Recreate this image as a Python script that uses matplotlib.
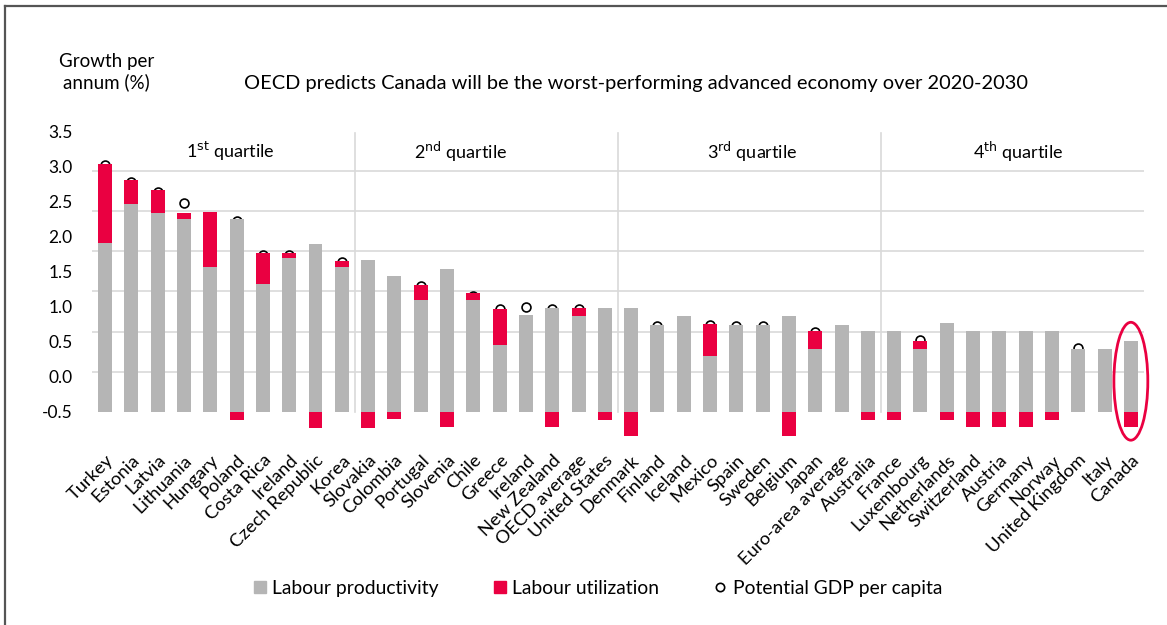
import numpy as np
import matplotlib.pyplot as plt
from matplotlib.patches import Ellipse
from matplotlib.lines import Line2D

plt.rcParams['font.family'] = ['Lato', 'DejaVu Sans']

# Datos
countries = ["Turkey", "Estonia", "Latvia", "Lithuania", "Hungary", "Poland", "Costa Rica",
             "Ireland", "Czech Republic", "Korea", "Slovakia", "Colombia", "Portugal",
             "Slovenia", "Chile", "Greece", "Ireland", "New Zealand", "OECD average",
             "United States", "Denmark", "Finland", "Iceland", "Mexico", "Spain", "Sweden",
             "Belgium", "Japan", "Euro-area average", "Australia", "France", "Luxembourg",
             "Netherlands", "Switzerland", "Austria", "Germany", "Norway", "United Kingdom",
             "Italy", "Canada"]

productivity = [2.10, 2.59, 2.48, 2.40, 1.80, 2.40, 1.59, 1.92, 2.09, 1.80,
                1.89, 1.69, 1.39, 1.78, 1.39, 0.83, 1.21, 1.29, 1.19, 1.29,
                1.29, 1.08, 1.19, 0.69, 1.08, 1.08, 1.19, 0.78, 1.08, 1.01,
                1.01, 0.78, 1.11, 1.01, 1.01, 1.01, 1.01, 0.78, 0.78, 0.88]

utilization = [0.99, 0.30, 0.28, 0.08, 0.69, -0.10, 0.39, 0.06, -0.20, 0.08,
               -0.20, -0.09, 0.19, -0.19, 0.09, 0.45, 0.0, -0.19, 0.10, -0.10,
               -0.30, 0.0, 0.0, 0.40, 0.0, 0.0, -0.30, 0.23, 0.0, -0.10,
               -0.10, 0.10, -0.10, -0.19, -0.19, -0.19, -0.10, 0.0, 0.0, -0.19]

potential = [3.07, 2.87, 2.74, 2.60, 2.30, 2.38, 1.96, 1.96, 1.89, 1.87,
             1.69, 1.60, 1.57, 1.59, 1.44, 1.28, 1.31, 1.28, 1.28, 1.19,
             0.99, 1.07, 1.00, 1.08, 1.07, 1.07, 0.89, 0.99, 0.95, 0.91,
             0.91, 0.90, 1.01, 0.82, 0.82, 0.82, 0.91, 0.80, 0.70, 0.69]

quartiles = ["1$^{\\mathrm{st}}$ quartile", "2$^{\\mathrm{nd}}$ quartile",
             "3$^{\\mathrm{rd}}$ quartile", "4$^{\\mathrm{th}}$ quartile"]

y_labels = ["3.5", "3.0", "2.5", "2.0", "1.5", "1.0", "0.5", "0.0", "-0.5"]

GRAY = "#B5B5B5"
RED = "#EA0041"

fig = plt.figure(figsize=(11.67, 6.25), dpi=100)
ax = fig.add_axes([0.0788, 0.2835, 0.9015, 0.5069])

x = np.arange(len(countries))
prod = np.array(productivity)
util = np.array(utilization)
bottom_red = np.where(util > 0, prod, 0.0)

ax.plot(x, potential, "o", ms=6.4, mfc="white", mec="black", mew=1.2, zorder=2, clip_on=False)
ax.bar(x, prod, width=0.53, color=GRAY, zorder=3)
ax.bar(x, util, width=0.53, bottom=bottom_red, color=RED, zorder=3)

# Rejilla y separadores de cuartiles
ax.set_yticks(np.arange(0, 3.51, 0.5), minor=True)
ax.grid(which="minor", axis="y", color="#D9D9D9", lw=1.2, zorder=0)
for xd in [9.5, 19.5, 29.5]:
    ax.plot([xd, xd], [0, 3.47], color="#D9D9D9", lw=1.2, zorder=1)

# Etiquetas del eje Y (como en el original, sin alinear con la rejilla)
ax.set_yticks(np.linspace(3.5, 0, 9))
ax.set_yticklabels(y_labels, fontsize=12.5)
ax.tick_params(axis="y", which="both", length=0, pad=14)

ax.set_xticks(x)
ax.set_xticklabels(countries, rotation=45, ha="right", rotation_mode="anchor", fontsize=13.2)
ax.tick_params(axis="x", length=0, pad=3)

ax.set_xlim(-0.5, len(countries) - 0.5)
ax.set_ylim(-0.45, 3.5)
for s in ax.spines.values():
    s.set_visible(False)

for xq, label in zip([4.75, 13.5, 24.6, 34.7], quartiles):
    ax.text(xq, 3.24, label, ha="center", va="center", fontsize=13)

ax.add_patch(Ellipse((39, 0.38), width=1.29, height=1.47, fill=False,
                     edgecolor=RED, lw=2, clip_on=False, zorder=4))

fig.text(0.091, 0.885, "Growth per\nannum (%)", ha="center", va="center", fontsize=13.5, linespacing=1.25)
fig.text(0.545, 0.867, "OECD predicts Canada will be the worst-performing advanced economy over 2020-2030",
         ha="center", va="center", fontsize=14.4)

handles = [
    Line2D([], [], ls="", marker="s", ms=8, color=GRAY),
    Line2D([], [], ls="", marker="s", ms=8, color=RED),
    Line2D([], [], ls="", marker="o", ms=6, mfc="white", mec="black", mew=1.2),
]
fig.legend(handles, ["Labour productivity", "Labour utilization", "Potential GDP per capita"],
           loc="center", bbox_to_anchor=(0.512, 0.059), ncol=3, frameon=False, fontsize=13.9,
           handlelength=0.7, handletextpad=0.3, columnspacing=2.8)

# Marco superior e izquierdo
fig.add_artist(Line2D([0.0047, 1.0], [0.991, 0.991], color="#555555", lw=1.6))
fig.add_artist(Line2D([0.0047, 0.0047], [0.0, 0.991], color="#555555", lw=1.6))

fig.savefig("out.png", dpi=100)
